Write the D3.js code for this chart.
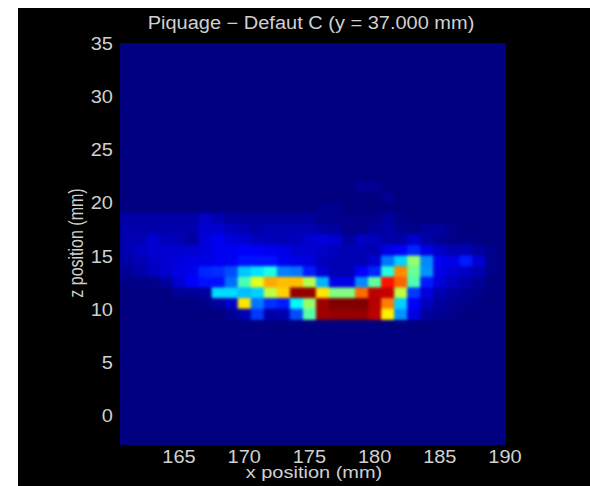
<!DOCTYPE html>
<html><head><meta charset="utf-8">
<script src="https://cdn.jsdelivr.net/npm/d3@7"></script>
<style>html,body{margin:0;padding:0;background:#fff}svg{display:block}text{font-family:"Liberation Sans",Arial,sans-serif;fill:#d0d0d0;font-size:16px}</style>
</head><body><div id="chart"></div>
<script>
const title = "Piquage \u2212 Defaut C (y = 37.000 mm)";
const xLabel = "x position (mm)";
const yLabel = "z position (mm)";
const xTicks = [165,170,175,180,185,190];
const yTicks = [0,5,10,15,20,25,30,35];
const xFirstCell = 160.5;      // left edge of the first column (1 mm wide)
const zRowStarts = [21,20,19,18,17,16,15,14,13,12,11,10,9];
const heat = [
 [0,0,0,0,0,0,0,0,0,0,0,0,0,0,0,0,0,0,.02,.02,0,0,0,0,0,0,0,0,0,0],
 [0,0,0,0,0,0,0,0,0,0,0,0,0,0,0,0,0,0,0,0,.02,0,0,0,0,0,0,0,0,0],
 [0,0,0,0,0,0,0,0,0,0,0,0,0,0,0,.015,.015,0,0,0,0,0,0,0,0,0,0,0,0,0],
 [.04,.04,.04,.04,.04,.04,.07,.05,.03,.03,.03,.03,.03,.03,.03,.01,.01,.01,.01,.01,.03,.01,0,0,0,0,0,0,0,0],
 [.045,.045,.045,.045,.045,.045,.08,.08,.06,.05,.04,.05,.05,.05,.05,.04,.03,.01,.01,.03,.04,.02,.01,.03,.03,.01,0,0,0,0],
 [.05,.05,.08,.06,.05,.03,.09,.11,.09,.08,.06,.06,.05,.06,.08,.09,.08,.03,.07,.06,.04,.04,.08,.04,.02,.01,.01,0,0,0],
 [.05,.07,.08,.08,.08,.08,.09,.11,.11,.12,.12,.11,.10,.08,.08,.07,.06,.05,.05,.05,.10,.12,.16,.10,.07,.05,.05,.03,.01,0],
 [.04,.05,.07,.08,.09,.10,.10,.11,.11,.14,.14,.14,.11,.10,.09,.06,.05,.05,.05,.08,.24,.33,.52,.26,.11,.10,.15,.08,.01,0],
 [.02,.04,.06,.08,.10,.11,.16,.17,.20,.32,.35,.40,.25,.24,.15,.08,.05,.05,.12,.16,.41,.74,.48,.27,.10,.08,.07,.05,.01,0],
 [.01,.01,.01,.03,.08,.12,.14,.14,.23,.45,.60,.71,.69,.69,.55,.30,.10,.10,.26,.47,.86,.78,.45,.15,.09,.06,.04,.02,0,0],
 [0,0,0,0,.02,.02,.03,.34,.34,.31,.33,.56,.67,.98,.98,.65,.50,.50,.77,.94,.93,.56,.18,.09,.05,.03,.02,.01,0,0],
 [0,0,0,0,0,0,.01,.03,.07,.65,.24,.17,.15,.37,.52,.97,1,1,1,.95,.75,.33,.12,.06,.03,.02,.01,0,0,0],
 [0,0,0,0,0,0,0,0,.02,.05,.18,.04,.05,.20,.46,.97,.98,.98,.98,.94,.64,.27,.10,.03,.02,.01,0,0,0,0]
];
const W=590,H=486;
const x=d3.scaleLinear().domain([165,190]).range([179,505]);
const y=d3.scaleLinear().domain([0,35]).range([415,43]);
const plot={l:120,t:43,r:506,b:445};
const sx=1.25, sy=1.1;
function jet(v){
  const c=t=>Math.round(255*Math.max(0,Math.min(1,t)));
  const r=c(Math.min(4*v-1.5,-4*v+4.5)),g=c(Math.min(4*v-.5,-4*v+3.5)),b=c(Math.min(4*v+.5,-4*v+2.5));
  return `rgb(${r},${g},${b})`;
}
const svg=d3.select("#chart").append("svg").attr("width",W).attr("height",H);
svg.append("rect").attr("x",18).attr("y",8).attr("width",W-18).attr("height",H-8).attr("fill","#000");
const defs=svg.append("defs");
defs.append("clipPath").attr("id","pc").append("rect").attr("x",plot.l).attr("y",plot.t).attr("width",plot.r-plot.l).attr("height",plot.b-plot.t);
defs.append("filter").attr("id","soft").attr("filterUnits","userSpaceOnUse").attr("x",0).attr("y",0).attr("width",W).attr("height",H)
  .attr("color-interpolation-filters","sRGB")
  .append("feGaussianBlur").attr("stdDeviation",1.4);
const g=svg.append("g").attr("clip-path","url(#pc)");
const f=g.append("g").attr("filter","url(#soft)");
f.append("rect").attr("x",plot.l-10).attr("y",plot.t-10).attr("width",plot.r-plot.l+20).attr("height",plot.b-plot.t+20).attr("fill",jet(0));
heat.forEach((row,i)=>{
  const z=zRowStarts[i];
  f.selectAll(null).data(row).join("rect")
   .attr("x",(d,c)=>x(xFirstCell+c)).attr("y",y(z+1))
   .attr("width",x(166)-x(165)+.5).attr("height",y(z)-y(z+1)+.5)
   .attr("fill",d=>jet(d));
});
const label=(t,px,py,anchor,rot,vs)=>svg.append("text")
  .attr("transform",rot?`translate(${px},${py}) rotate(-90) scale(1,${sx})`:`translate(${px},${py}) scale(${sx},${vs||sy})`)
  .attr("text-anchor",anchor).text(t);
xTicks.forEach(d=>label(d,x(d),463,"middle"));
yTicks.forEach(d=>label(d,113,y(d)+7,"end"));
label(title,311,29,"middle");
label(xLabel,314,478,"middle",false,1.08);
label(yLabel,83,243,"middle",true);
</script></body></html>
